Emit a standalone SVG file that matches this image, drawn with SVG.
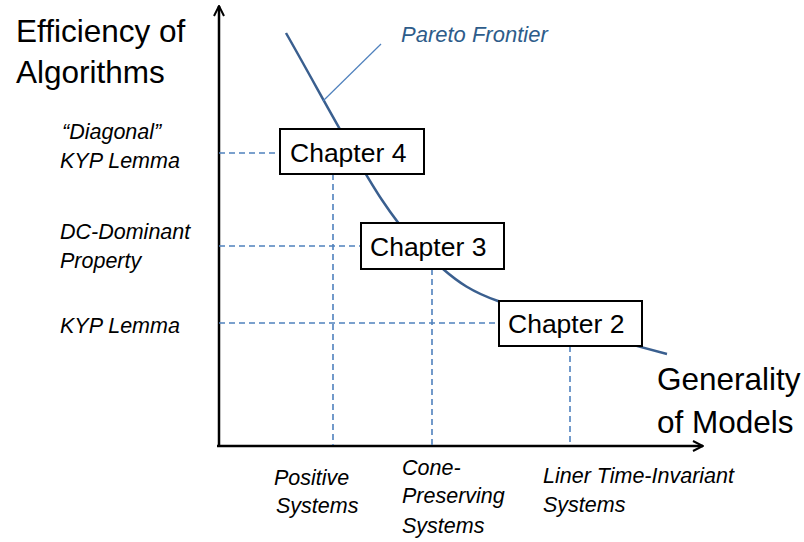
<svg xmlns="http://www.w3.org/2000/svg" width="804" height="542" viewBox="0 0 804 542">
  <style>
    .axis { stroke: #000; stroke-width: 2.5; fill: none; }
    .guide { stroke: #4F81BD; stroke-width: 1.6; stroke-dasharray: 6 4; fill: none; }
    .curve { stroke: #3A5F8F; stroke-width: 2.5; fill: none; }
    .leader { stroke: #4F81BD; stroke-width: 1.2; fill: none; }
    .box { fill: #fff; stroke: #000; stroke-width: 2; }
    .chap { font-family: "Liberation Sans", Arial, sans-serif; font-size: 26.5px; fill: #000; }
    .big { font-family: "Liberation Sans", Arial, sans-serif; font-size: 31.5px; fill: #000; }
    .it { font-family: "Liberation Sans", Arial, sans-serif; font-size: 21.5px; font-style: italic; fill: #000; }
    .pareto { font-family: "Liberation Sans", Arial, sans-serif; font-size: 22px; font-style: italic; fill: #2E5C8A; }
  </style>
  <defs>
    <marker id="arrow" viewBox="0 0 12 12" refX="11" refY="6" markerWidth="12" markerHeight="12" markerUnits="userSpaceOnUse" orient="auto">
      <path d="M1,1 L11,6 L1,11" fill="none" stroke="#000" stroke-width="2"/>
    </marker>
  </defs>
  <rect width="804" height="542" fill="#fff"/>

  <g id="axes">
    <line class="axis" x1="219" y1="446" x2="219" y2="6" marker-end="url(#arrow)"/>
    <line class="axis" x1="217" y1="446" x2="703" y2="446" marker-end="url(#arrow)"/>
  </g>

  <g id="connectors">
    <line class="guide" x1="219" y1="153" x2="280" y2="153"/>
    <line class="guide" x1="219" y1="246" x2="361" y2="246"/>
    <line class="guide" x1="219" y1="323" x2="499" y2="323"/>
    <line class="guide" x1="333" y1="174" x2="333" y2="445"/>
    <line class="guide" x1="432" y1="269" x2="432" y2="445"/>
    <line class="guide" x1="570" y1="346" x2="570" y2="445"/>
    <path id="pareto-curve" class="curve" d="M286,33 C318,89 356,161 382,200 C408,239 424,252 443,269 C458,282 472,292 498,301 C535,315 600,337 667,354"/>
    <line class="leader" x1="381" y1="44" x2="323" y2="101"/>
  </g>

  <g id="chapter4">
    <rect class="box" x="280" y="129" width="144" height="45"/>
    <text class="chap" x="290" y="162">Chapter 4</text>
  </g>
  <g id="chapter3">
    <rect class="box" x="361" y="223" width="143" height="46"/>
    <text class="chap" x="370" y="256">Chapter 3</text>
  </g>
  <g id="chapter2">
    <rect class="box" x="499" y="301" width="143" height="45"/>
    <text class="chap" x="508" y="333">Chapter 2</text>
  </g>

  <g id="labels">
    <text class="big" x="16" y="42">Efficiency of</text>
    <text class="big" x="16" y="83">Algorithms</text>
    <text class="big" x="657" y="390">Generality</text>
    <text class="big" x="657" y="433">of Models</text>
    <text class="pareto" x="401" y="42">Pareto Frontier</text>
    <text class="it" x="62" y="139">“Diagonal”</text>
    <text class="it" x="60" y="168">KYP Lemma</text>
    <text class="it" x="60" y="239">DC-Dominant</text>
    <text class="it" x="60" y="268">Property</text>
    <text class="it" x="60" y="333">KYP Lemma</text>
    <text class="it" x="274" y="485">Positive</text>
    <text class="it" x="276" y="513">Systems</text>
    <text class="it" x="402" y="475">Cone-</text>
    <text class="it" x="402" y="503">Preserving</text>
    <text class="it" x="402" y="533">Systems</text>
    <text class="it" x="543" y="483">Liner Time-Invariant</text>
    <text class="it" x="543" y="512">Systems</text>
  </g>
</svg>
